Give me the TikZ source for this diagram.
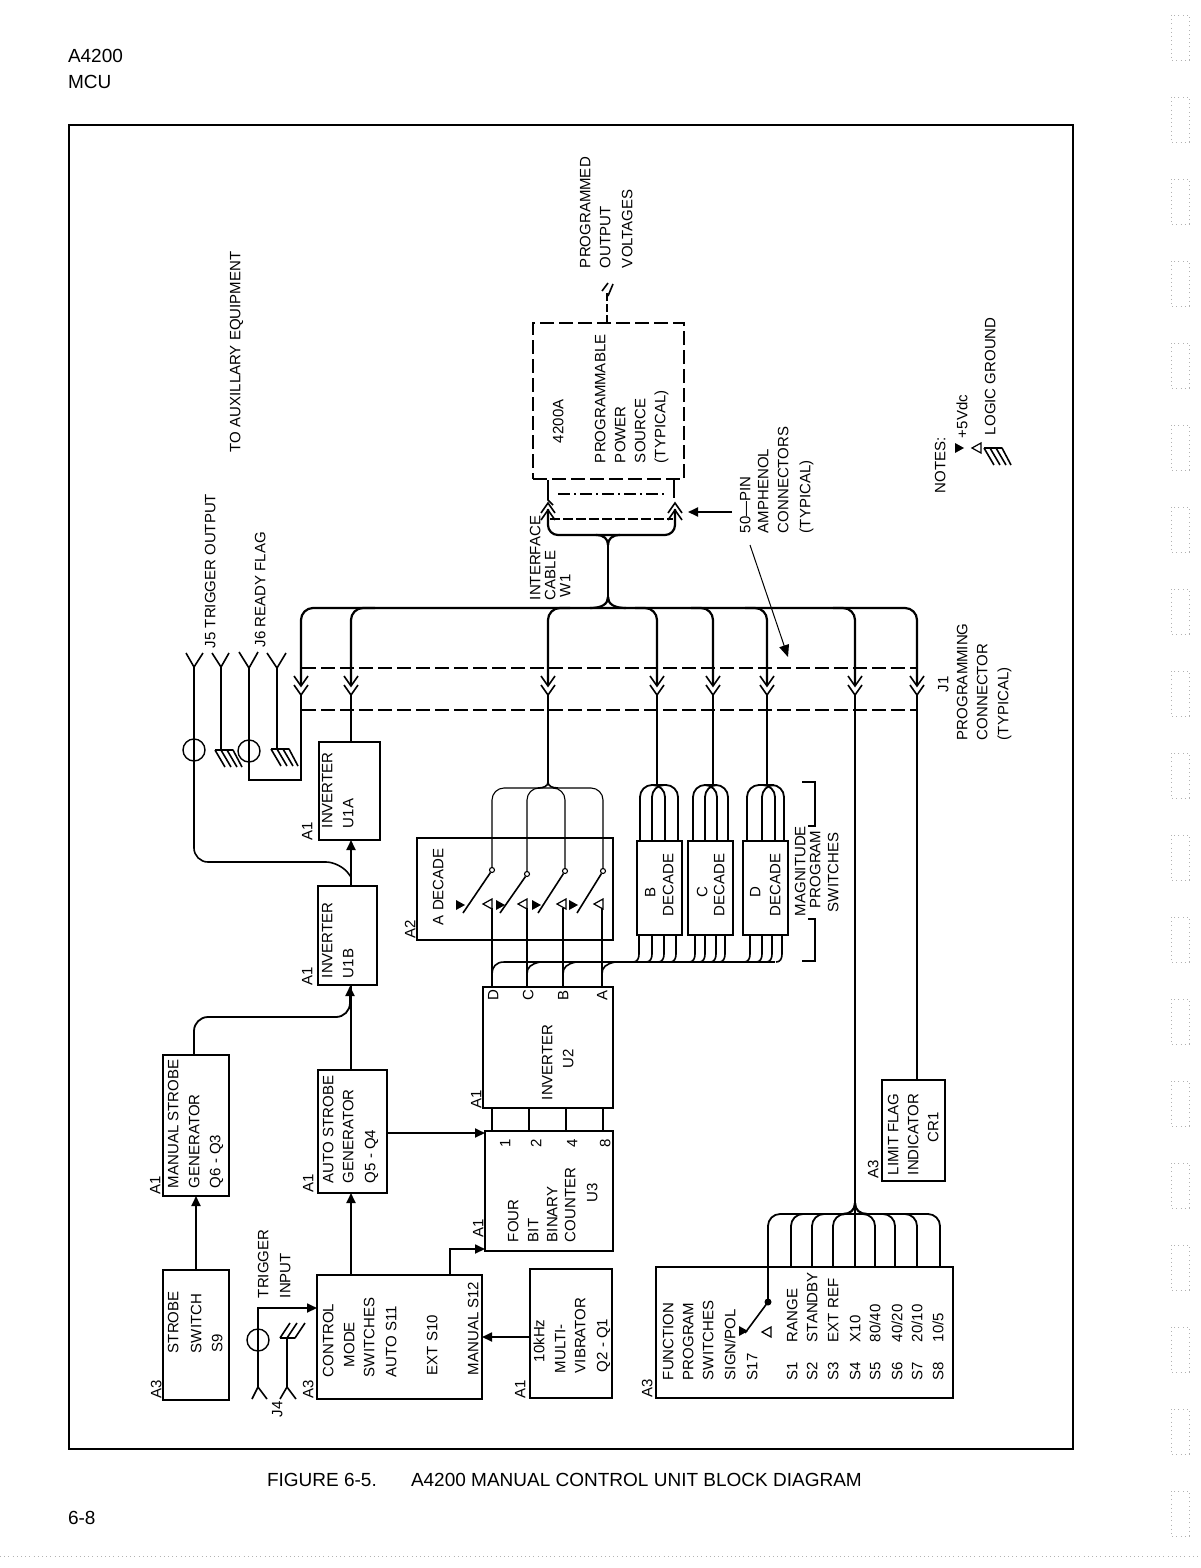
\documentclass[tikz,border=0pt]{standalone}
\usepackage{fontspec}
\setmainfont{Liberation Sans}
\usetikzlibrary{arrows.meta,fit}
\newcounter{tn}
\tikzset{
  vt/.style={rotate=90,anchor=west,inner sep=0pt,outer sep=0pt,text height=5.4pt,text depth=0pt,
    font=\fontsize{7.5pt}{9pt}\selectfont},
  ht/.style={anchor=west,inner sep=0pt,outer sep=0pt,font=\fontsize{9.5pt}{11pt}\selectfont},
  box/.style={draw,line width=.75pt,inner sep=0pt,outer sep=0pt},
  dbox/.style={draw,line width=.9pt,inner sep=0pt,outer sep=0pt,dash pattern=on 7pt off 2.5pt},
  framebox/.style={draw,line width=1.3pt,inner sep=0pt,outer sep=0pt},
  wire/.style={line width=.8pt},
  thin wire/.style={line width=.55pt},
  bus/.style={line width=1.1pt},
  arr/.style={line width=.9pt,-{Triangle[length=5pt,width=4.5pt]}},
  ring/.style={circle,draw,line width=.7pt,minimum size=11pt,inner sep=0pt,outer sep=0pt},
  jdash/.style={line width=.9pt,dash pattern=on 7pt off 2.5pt},
  bundle/.style={line width=.9pt,rounded corners=6pt},
  perf/.style={line width=.35pt,gray!60,dash pattern=on .5pt off 1.6pt},
}
\newcommand\vtxt[2]{\stepcounter{tn}\node[vt] (vt\thetn) at (#1) {#2};}
\newcommand\bxx[6][box]{\coordinate (#2a) at (#3,#4);\coordinate (#2b) at (#5,#6);\node[#1,fit=(#2a)(#2b)] (#2) {};}
\newcommand\chevd[1]{\draw[wire] ([shift={(-7,-10)}]#1) -- (#1) -- ([shift={(7,-10)}]#1);}
\newcommand\chevu[1]{\draw[wire] ([shift={(-7,10)}]#1) -- (#1) -- ([shift={(7,10)}]#1);}
\newcommand\ffill[1]{\fill ([shift={(5,0)}]#1) -- ([shift={(-4,-5)}]#1) -- ([shift={(-4,5)}]#1) -- cycle;}
\newcommand\fopen[1]{\draw[line width=.6pt] ([shift={(-5,0)}]#1) -- ([shift={(4,-5)}]#1) -- ([shift={(4,5)}]#1) -- cycle;}
\newcommand\gnd[1]{\draw[wire] ([shift={(-6,0)}]#1) -- ([shift={(12,0)}]#1)
   ([shift={(-6,0)}]#1) -- ([shift={(4,17)}]#1)
   ([shift={(0,0)}]#1) -- ([shift={(10,17)}]#1)
   ([shift={(6,0)}]#1) -- ([shift={(16,17)}]#1)
   ([shift={(12,0)}]#1) -- ([shift={(21,17)}]#1);}
\begin{document}
\begin{tikzpicture}[x=.5pt,y=-.5pt]
\useasboundingbox (0,0) rectangle (1200,1568);
% scan marks
\foreach \i in {0,...,18}{
  \pgfmathsetmacro\ya{15+82*\i}\pgfmathsetmacro\yb{60+82*\i}
  \draw[perf] (1171,\ya) rectangle (1189,\yb);}
\draw[perf] (0,1556) -- (1200,1556);
% header / caption
\node[ht] (hd1) at (68,56) {A4200};
\node[ht] (hd2) at (68,82) {MCU};
\node[ht] (cap1) at (267,1480) {FIGURE 6-5.};
\node[ht] (cap2) at (411,1480) {A4200 MANUAL CONTROL UNIT BLOCK DIAGRAM};
\node[ht] (pg) at (68,1518) {6-8};
\bxx[framebox]{frame}{69}{125}{1073}{1449}
% boxes
\bxx{strobesw}{163}{1270}{229}{1400}
\bxx{manstrobe}{163}{1055}{229}{1196}
\bxx{autostrobe}{318}{1070}{387}{1193}
\bxx{control}{317}{1275}{482}{1399}
\bxx{counter}{485}{1131}{613}{1251}
\bxx{inverttwo}{483}{987}{613}{1108}
\bxx{multi}{530}{1269}{612}{1398}
\bxx{func}{656}{1267}{953}{1398}
\bxx{limit}{882}{1080}{945}{1181}
\bxx{adec}{417}{838}{613}{940}
\bxx{bdec}{637}{841}{682}{935}
\bxx{cdec}{688}{841}{733}{935}
\bxx{ddec}{743}{841}{788}{935}
\bxx{uonea}{319}{742}{380}{840}
\bxx{uoneb}{318}{886}{377}{985}
\bxx[dbox]{psu}{533}{323}{684}{479}
% block texts
\vtxt{156,1398}{A3}
\vtxt{173,1353}{STROBE}
\vtxt{196,1353}{SWITCH}
\vtxt{217,1352}{S9}
\vtxt{155,1194}{A1}
\vtxt{173,1188}{MANUAL STROBE}
\vtxt{194,1188}{GENERATOR}
\vtxt{215,1188}{Q6 - Q3}
\vtxt{308,1192}{A1}
\vtxt{328,1183}{AUTO STROBE}
\vtxt{348,1183}{GENERATOR}
\vtxt{370,1183}{Q5 - Q4}
\vtxt{308,1398}{A3}
\vtxt{328,1377}{CONTROL}
\vtxt{349,1367}{MODE}
\vtxt{369,1377}{SWITCHES}
\vtxt{391,1377}{AUTO S11}
\vtxt{432,1375}{EXT S10}
\vtxt{473,1375}{MANUAL S12}
\vtxt{263,1298}{TRIGGER}
\vtxt{285,1298}{INPUT}
\vtxt{277,1417}{J4}
\vtxt{478,1237}{A1}
\vtxt{513,1242}{FOUR}
\vtxt{533,1242}{BIT}
\vtxt{552,1242}{BINARY}
\vtxt{570,1242}{COUNTER}
\vtxt{592,1202}{U3}
\vtxt{505,1147}{1}
\vtxt{536,1147}{2}
\vtxt{572,1147}{4}
\vtxt{605,1147}{8}
\vtxt{476,1108}{A1}
\vtxt{547,1100}{INVERTER}
\vtxt{568,1068}{U2}
\vtxt{493,1000}{D}
\vtxt{528,1000}{C}
\vtxt{563,1000}{B}
\vtxt{602,1000}{A}
\vtxt{520,1398}{A1}
\vtxt{539,1362}{10kHz}
\vtxt{560,1373}{MULTI-}
\vtxt{580,1373}{VIBRATOR}
\vtxt{602,1372}{Q2 - Q1}
\vtxt{647,1397}{A3}
\vtxt{668,1380}{FUNCTION}
\vtxt{688,1380}{PROGRAM}
\vtxt{708,1380}{SWITCHES}
\vtxt{730,1380}{SIGN/POL}
\vtxt{752,1380}{S17}
\foreach \x/\s/\t in {792/S1/RANGE,812/S2/STANDBY,833/S3/EXT REF,855/S4/X10,875/S5/80\slash 40,897/S6/40\slash 20,917/S7/20\slash 10,938/S8/10\slash 5}{
  \vtxt{\x,1380}{\s}\vtxt{\x,1342}{\t}}
\vtxt{873,1178}{A3}
\vtxt{893,1175}{LIMIT FLAG}
\vtxt{913,1175}{INDICATOR}
\vtxt{933,1142}{CR1}
\vtxt{410,938}{A2}
\vtxt{438,925}{A DECADE}
\vtxt{650,897}{B}
\vtxt{668,916}{DECADE}
\vtxt{702,897}{C}
\vtxt{719,916}{DECADE}
\vtxt{755,897}{D}
\vtxt{775,916}{DECADE}
\vtxt{800,916}{MAGNITUDE}
\vtxt{815,908}{PROGRAM}
\vtxt{833,912}{SWITCHES}
\vtxt{307,840}{A1}
\vtxt{327,828}{INVERTER}
\vtxt{348,828}{U1A}
\vtxt{307,985}{A1}
\vtxt{327,978}{INVERTER}
\vtxt{348,978}{U1B}
\vtxt{210,648}{J5 TRIGGER OUTPUT}
\vtxt{260,647}{J6 READY FLAG}
\vtxt{235,452}{TO AUXILLARY EQUIPMENT}
\vtxt{558,443}{4200A}
\vtxt{600,463}{PROGRAMMABLE}
\vtxt{620,463}{POWER}
\vtxt{640,463}{SOURCE}
\vtxt{660,463}{(TYPICAL)}
\vtxt{585,268}{PROGRAMMED}
\vtxt{605,268}{OUTPUT}
\vtxt{627,268}{VOLTAGES}
\vtxt{535,600}{INTERFACE}
\vtxt{550,600}{CABLE}
\vtxt{565,597}{W1}
\vtxt{745,533}{50---PIN}
\vtxt{763,533}{AMPHENOL}
\vtxt{783,533}{CONNECTORS}
\vtxt{805,533}{(TYPICAL)}
\vtxt{943,692}{J1}
\vtxt{962,740}{PROGRAMMING}
\vtxt{982,740}{CONNECTOR}
\vtxt{1003,740}{(TYPICAL)}
\vtxt{940,493}{NOTES:}
\vtxt{962,438}{+5Vdc}
\vtxt{990,435}{LOGIC GROUND}
% legend
\coordinate (legf) at (959,448);\ffill{legf}
\coordinate (lego) at (977,448);\fopen{lego}
\coordinate (legg) at (990,448);\gnd{legg}
% simple block connectors
\draw[arr] (strobesw.north) -- (manstrobe.south);
\coordinate (ctlA) at (351,1275);\coordinate (asB) at (351,1193);
\draw[arr] (ctlA) -- (asB);
\coordinate (asT) at (351,1070);\coordinate (ubB) at (351,985);
\draw[wire] (asT) -- (ubB);
\coordinate (msT) at (194,1055);\coordinate (ubin) at (350,986);
\draw[arr,rounded corners=7pt] (msT) -- (194,1017) -- (350,1017) -- (ubin);
\coordinate (ubT) at (351,886);\coordinate (uaB) at (351,840);
\draw[arr] (ubT) -- (uaB);
\coordinate (asR) at (387,1133);\coordinate (cntC) at (485,1133);
\draw[arr] (asR) -- (cntC);
\coordinate (ctlT) at (450,1275);\coordinate (cntL) at (485,1249);
\draw[arr] (ctlT) -- (450,1249) -- (cntL);
\coordinate (mvL) at (530,1337);\coordinate (ctlR) at (482,1337);
\draw[arr] (mvL) -- (ctlR);
\foreach \x in {492,529,566,603}{\draw[wire] (\x,1108) -- (\x,1131);}
% trigger input
\node[ring] (trigc) at (258,1340) {};
\coordinate (jfa) at (258,1387);\coordinate (ctlin) at (317,1308);
\draw[arr] (jfa) -- (258,1308) -- (ctlin);
\draw[wire] (252,1399) -- (jfa) -- (267,1399);
\coordinate (jfb) at (287,1387);\coordinate (jfg) at (287,1338);
\draw[wire] (jfb) -- (jfg);
\draw[wire] (280,1399) -- (jfb) -- (296,1399);
\draw[wire] (280,1338) -- (295,1338) (280,1338) -- (290,1323) (287,1338) -- (297,1323) (295,1338) -- (305,1323);
% J5, J6
\node[ring] (jfive) at (194,750) {};
\node[ring] (jsix) at (249,751) {};
\coordinate (jA) at (194,667);\coordinate (jB) at (221,667);\coordinate (jC) at (249,668);\coordinate (jD) at (277,668);
\draw[wire] (186,653) -- (jA) -- (203,653);
\draw[wire] (212,653) -- (jB) -- (229,653);
\draw[wire] (239,652) -- (jC) -- (258,652);
\draw[wire] (267,653) -- (jD) -- (286,653);
\coordinate (gB) at (221,750);\coordinate (gD) at (277,749);
\draw[wire] (jB) -- (gB);\draw[wire] (jD) -- (gD);
\gnd{gB}\gnd{gD}
\coordinate (mrg) at (351,877);
\draw[wire,rounded corners=7pt] (jA) -- (194,862) -- (340,862) -- (mrg);
\coordinate (chA) at (301,695);
\draw[bus] (chA) -- (301,780) -- (249,780) -- (jC);
% J1 dashed
\coordinate (dA) at (302,668);\coordinate (dB) at (916,668);
\coordinate (dC) at (302,710);\coordinate (dD) at (916,710);
\draw[jdash] (dA) -- (dB);\draw[jdash] (dC) -- (dD);
% main bus
\draw[bundle,line width=1.1pt] (301,685) -- (301,608) -- (917,608) -- (917,685);
\draw[bundle,line width=1.1pt] (351,685) -- (351,608) -- (375,608);
\draw[bundle,line width=1.1pt] (548,685) -- (548,608) -- (570,608);
\foreach \x in {657,713,767,855}{\draw[bundle,line width=1.1pt] (\x-22,608) -- (\x,608) -- (\x,685);}
\foreach \x in {301,351,548,657,713,767,855,917}{
  \coordinate (chv\x) at (\x,695);\coordinate (chw\x) at (\x,686);
  \chevd{chv\x}\chevd{chw\x}}
\draw[wire] (chv351) -- (uonea.north -| chv351);
\draw[wire] (chv917) -- (917,1080);
\coordinate (jun) at (548,782);
\draw[wire] (chv548) -- (jun);
\coordinate (bc) at (657,785);\coordinate (cc) at (713,785);\coordinate (dc) at (767,785);
\draw[wire] (chv657) -- (bc);\draw[wire] (chv713) -- (cc);\draw[wire] (chv767) -- (dc);
% interface cable
\coordinate (cabS) at (608,545);\coordinate (cabB) at (608,597);
\draw[bus] (cabS) -- (cabB);
\draw[bus] (590,608) .. controls (602,608) and (608,604) .. (cabB);
\draw[bus] (626,608) .. controls (614,608) and (608,604) .. (cabB);
\draw[bus,rounded corners=5pt] (548,509) -- (548,535) -- (675,535) -- (675,509);
\draw[bus] (596,535) .. controls (604,535) and (608,539) .. (cabS);
\draw[bus] (620,535) .. controls (612,535) and (608,539) .. (cabS);
\coordinate (cA) at (548,503);\coordinate (cB) at (548,510);\coordinate (cC) at (675,503);\coordinate (cD) at (675,510);
\chevu{cA}\chevu{cB}\chevu{cC}\chevu{cD}
\draw[wire] (548,480) -- (548,500) -- (553,505);
\draw[wire] (674,480) -- (674,498);
\coordinate (iA) at (558,494);\coordinate (iB) at (667,494);
\draw[line width=.8pt,dash pattern=on 6pt off 2pt on 1pt off 2pt] (iA) -- (iB);
\coordinate (iC) at (550,519);\coordinate (iD) at (673,519);
\draw[jdash,dash pattern=on 5pt off 1.5pt] (iC) -- (iD);
% pins arrow
\coordinate (pinR) at (732,512);\coordinate (pinL) at (688,512);
\draw[arr] (pinR) -- (pinL);
\coordinate (slA) at (750,545);\coordinate (slB) at (788,657);
\draw[line width=.5pt,-{Triangle[length=6pt,width=5pt]}] (slA) -- (slB);
% output arrow
\coordinate (ouB) at (607,323);\coordinate (ouT) at (607,293);
\draw[line width=.6pt,dash pattern=on 4pt off 1.5pt] (ouB) -- (ouT);
\coordinate (ouC) at (608,283);\coordinate (ouD) at (608,289);
\draw[wire] (602,291) -- (ouC) (608,296) -- (613,284);
% function bundle
\coordinate (fj) at (855,1203);
\foreach \x in {768,791,812,875,895,917,940}{
  \draw[bundle] (\x,1267) -- (\x,1214) -- (855,1214);}
\draw[bundle] (833,1267) -- (833,1214) -- (846,1214);
\draw[bus] (855,1267) -- (855,695);
\draw[bus] (843,1214) .. controls (850,1214) and (855,1210) .. (fj);
\draw[bus] (867,1214) .. controls (860,1214) and (855,1210) .. (fj);
% S17 switch
\coordinate (sw) at (768,1302);\coordinate (swe) at (745,1333);
\draw[wire] (768,1267) -- (sw) -- (swe);
\fill (sw) circle[radius=3.5];
\coordinate (swf) at (743,1331);\ffill{swf}
\coordinate (swo) at (767,1332);\fopen{swo}
% A decade wires
\draw[thin wire,rounded corners=6pt] (492,870) -- (492,788) -- (603,788) -- (603,871);
\draw[thin wire,rounded corners=6pt] (527,874) -- (527,788) -- (540,788);
\draw[thin wire,rounded corners=6pt] (565,871) -- (565,788) -- (556,788);
\draw[wire] (538,788) .. controls (544,788) and (548,786) .. (jun);
\draw[wire] (558,788) .. controls (552,788) and (548,786) .. (jun);
\foreach \xa/\ya/\xb/\xd/\xf/\xo in {492/870/463/492/460/488,527/874/500/527/500/523,565/871/538/563/536/562,603/871/577/602/573/599}{
  \draw[thin wire,fill=white] (\xa,\ya) circle[radius=2.5];
  \draw[wire] (\xa-1.5,\ya+2.5) -- (\xb,913);
  \draw[thin wire] (\xd,987) -- (\xd,908);
  \coordinate (ff\xa) at (\xf,905);\ffill{ff\xa}
  \coordinate (fo\xa) at (\xo,904);\fopen{fo\xa}}
% lower bus
\draw[bus] (504,962) -- (775,962);
\draw[wire] (492,974) .. controls (492,967) and (496,962) .. (504,962);
\draw[wire] (527,974) .. controls (527,967) and (531,964) .. (540,962);
\draw[wire] (563,974) .. controls (563,967) and (567,964) .. (576,962);
\draw[wire] (602,974) .. controls (602,967) and (606,964) .. (615,962);
\foreach \x in {639,652,664,676,695,705,716,725,750,762,772,782}{
  \draw[wire] (\x,935) -- (\x,954) .. controls (\x,959) and (\x-2,962) .. (\x-6,962);}
% upper bundles
\foreach \x in {640,652,665,678}{\draw[bundle] (\x,841) -- (\x,785) -- (657,785);}
\foreach \x in {693,705,717,728}{\draw[bundle] (\x,841) -- (\x,785) -- (713,785);}
\foreach \x in {747,762,775,784}{\draw[bundle] (\x,841) -- (\x,785) -- (767,785);}
% bracket
\draw[wire] (802,782) -- (815,782) -- (815,826) -- (808,826);
\draw[wire] (808,919) -- (815,919) -- (815,961) -- (802,961);
\end{tikzpicture}
\end{document}
